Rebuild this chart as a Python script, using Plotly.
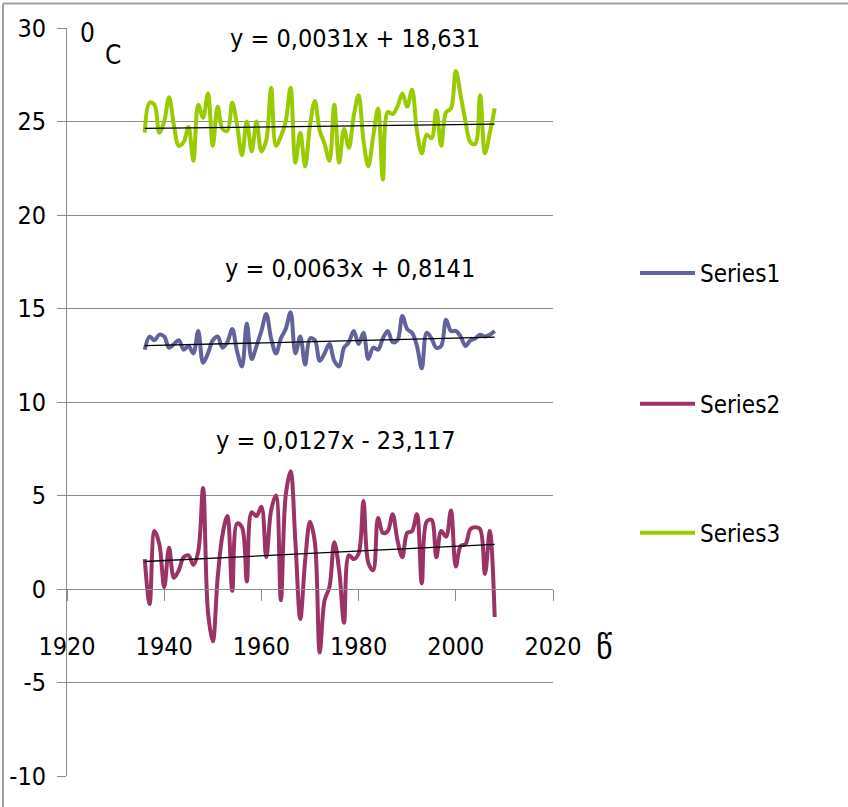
import plotly.graph_objects as go

years = list(range(1936, 2009))

series1 = [12.8, 13.5, 13.3, 13.6, 13.5, 12.9, 13.1, 13.3, 12.8, 13.0,
           12.6, 13.8, 12.1, 12.6, 13.3, 13.5, 12.9, 13.2, 13.9, 12.7,
           11.9, 14.2, 12.3, 13.0, 13.8, 14.7, 13.4, 12.6, 13.4, 13.9,
           14.8, 12.6, 13.5, 12.0, 13.4, 13.3, 12.2, 12.6, 13.1, 12.2,
           11.9, 12.9, 13.2, 13.8, 13.1, 13.7, 12.3, 12.9, 12.8, 13.4,
           13.8, 13.2, 13.3, 14.6, 13.9, 13.7, 13.0, 11.8, 13.7, 13.4,
           12.9, 13.0, 14.4, 13.8, 13.8, 13.5, 13.0, 13.3, 13.4, 13.6,
           13.5, 13.6, 13.8]

series2 = [1.6, -0.8, 3.1, 2.4, 0.1, 2.2, 0.6, 1.0, 1.7, 1.8,
           1.3, 2.0, 5.4, -1.2, -2.8, 0.6, 2.9, 3.9, -0.1, 3.5,
           3.3, 0.4, 4.1, 3.9, 4.4, 1.7, 4.2, 5.0, -0.6, 5.0,
           6.3, 2.5, -1.6, 1.5, 3.6, 2.5, -3.4, -0.6, 0.1, 2.5,
           1.0, -1.8, 1.8, 1.6, 1.9, 4.7, 1.4, 1.0, 3.8, 3.0,
           3.1, 4.0, 2.6, 1.7, 3.0, 3.1, 4.0, 0.3, 3.6, 3.7,
           1.7, 3.1, 2.8, 4.2, 1.2, 2.3, 2.4, 3.2, 3.3, 3.2,
           0.8, 3.1, -1.5]

series3 = [24.4, 26.0, 25.9, 24.4, 25.0, 26.3, 24.8, 23.7, 23.9, 24.7,
           22.9, 25.9, 25.2, 26.5, 23.7, 25.8, 24.6, 24.5, 26.0, 24.8,
           23.2, 25.0, 23.4, 25.0, 23.4, 24.0, 26.8, 23.7, 24.2, 25.0,
           26.8, 22.8, 24.4, 22.6, 24.8, 26.1, 24.5, 23.8, 22.9, 25.9,
           22.8, 24.6, 23.6, 25.3, 26.4, 24.0, 22.6, 24.2, 25.7, 21.9,
           25.5, 25.4, 25.8, 26.5, 25.8, 26.7, 24.5, 23.3, 24.3, 24.1,
           25.6, 23.7, 25.5, 25.7, 27.7, 26.4, 25.0, 23.9, 23.8, 26.4,
           23.3, 24.4, 25.7]

series_names = ["Series1", "Series2", "Series3"]
series_colors = ["#63639C", "#9B3366", "#99CC00"]

# trendline coefficients (slope, intercept) shown on the chart
trend_slopes = [0.0063, 0.0127, 0.0031]
trend_intercepts = [0.8141, -23.117, 18.631]
trend_labels = ["y = 0,0063x + 0,8141", "y = 0,0127x - 23,117", "y = 0,0031x + 18,631"]

x_ticks = [1920, 1940, 1960, 1980, 2000, 2020]
y_ticks = [-10, -5, 0, 5, 10, 15, 20, 25, 30]
y_ticktext = ["-10", "-5", "0", "5", "10", "15", "20", "25", "30"]

FONT = "DejaVu Sans Condensed, Liberation Sans Narrow, Liberation Sans, sans-serif"

fig = go.Figure()
legend_ids = ["legend", "legend2", "legend3"]
all_series = [series1, series2, series3]
for name, vals, col, lg in zip(series_names, all_series, series_colors, legend_ids):
    fig.add_trace(go.Scatter(x=years, y=vals, mode="lines", name=name,
                             line=dict(color=col, width=4, shape="spline", smoothing=1.0),
                             legend=lg))

for a, b in zip(trend_slopes, trend_intercepts):
    xs = [years[0], years[-1]]
    fig.add_trace(go.Scatter(x=xs, y=[a * v + b for v in xs], mode="lines",
                             line=dict(color="black", width=1.3), showlegend=False,
                             hoverinfo="skip"))

L, R, T, B = 67, 848 - 553, 27.5, 807 - 776
W, H = 848, 807
pw, ph = W - L - R, H - T - B

def px_x(px):
    return (px - L) / pw

def px_y(py):
    return (H - B - py) / ph

leg_pos = [273, 404, 533]
for lg, py in zip(legend_ids, leg_pos):
    fig.update_layout({lg: dict(x=px_x(635), y=px_y(py), xanchor="left", yanchor="middle",
                                font=dict(family=FONT, size=24, color="black"),
                                bgcolor="rgba(0,0,0,0)", itemwidth=55)})

def note(text, px, py, size=25, family=FONT):
    return dict(x=px_x(px), y=px_y(py), xref="paper", yref="paper", text=text,
                xanchor="center", yanchor="middle", showarrow=False,
                font=dict(family=family, size=size, color="black"))

annots = []
eq_pos = [(350, 268), (336, 440), (355, 38)]
for lab, (px, py) in zip(trend_labels, eq_pos):
    annots.append(note(lab, px, py))
annots.append(note("0", 87, 33, 26))
annots.append(note("C", 113, 55, 26))
annots.append(note("წ", 604, 648, 32, "DejaVu Sans"))

fig.update_layout(
    width=W, height=H,
    margin=dict(l=L, r=R, t=T, b=B, autoexpand=False),
    paper_bgcolor="white", plot_bgcolor="white",
    font=dict(family=FONT, size=25, color="black"),
    annotations=annots,
    xaxis=dict(range=[1920, 2020], tickvals=x_ticks, showgrid=False, zeroline=False,
               showline=True, linecolor="#8C8C8C", linewidth=1,
               ticks="outside", ticklen=11, tickcolor="#8C8C8C",
               anchor="free", position=0.25, ticklabelstandoff=24, automargin=False,
               tickfont=dict(family=FONT, size=25, color="black")),
    yaxis=dict(range=[-10, 30], tickvals=y_ticks, ticktext=y_ticktext,
               showgrid=True, gridcolor="#8C8C8C", automargin=False,
               gridwidth=1, zeroline=False, showline=True, linecolor="#8C8C8C",
               linewidth=1, ticks="outside", ticklen=9, tickcolor="#8C8C8C",
               ticklabelstandoff=6, tickfont=dict(family=FONT, size=25, color="black")),
    shapes=[
        dict(type="line", xref="paper", yref="paper", x0=px_x(3), x1=px_x(848),
             y0=px_y(3), y1=px_y(3), line=dict(color="#A0A0A0", width=2)),
        dict(type="line", xref="paper", yref="paper", x0=px_x(3), x1=px_x(3),
             y0=px_y(3), y1=px_y(807), line=dict(color="#A0A0A0", width=2)),
    ],
)

fig.write_html("out.html", config={"displayModeBar": False},
               post_script="document.body.style.margin='0';")
